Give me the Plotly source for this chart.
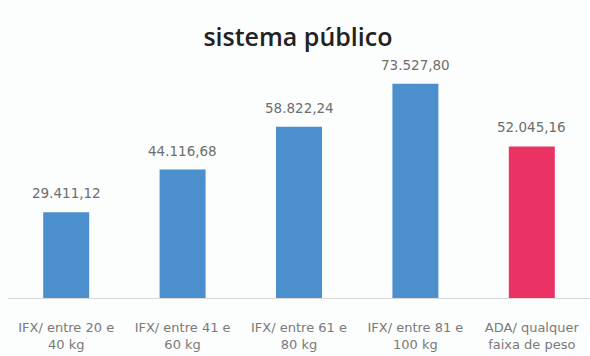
import plotly.graph_objects as go

categories = ["IFX/ entre 20 e<br>40 kg", "IFX/ entre 41 e<br>60 kg", "IFX/ entre 61 e<br>80 kg",
              "IFX/ entre 81 e<br>100 kg", "ADA/ qualquer<br>faixa de peso"]
values = [29411.12, 44116.68, 58822.24, 73527.80, 52045.16]
labels = ["29.411,12", "44.116,68", "58.822,24", "73.527,80", "52.045,16"]
colors = ["#4b8fcc", "#4b8fcc", "#4b8fcc", "#4b8fcc", "#ea3265"]

fig = go.Figure(go.Bar(
    x=categories, y=values,
    marker=dict(color=colors, line=dict(width=0)),
    width=0.395,
))
for c, v, t in zip(categories, values, labels):
    fig.add_annotation(x=c, y=v, text=t, showarrow=False, yanchor="bottom", yshift=9,
                       font=dict(family="DejaVu Sans", size=13.5, color="#6e6e6e"))
fig.update_layout(
    width=590, height=356,
    margin=dict(l=8, r=0, t=65, b=58),
    paper_bgcolor="#fcfdfd", plot_bgcolor="#fcfdfd",
    title=dict(text="sistema público", x=0.505, xanchor="center", y=0.895, yanchor="middle",
               font=dict(family="Open Sans", size=25, weight=600, color="#222222")),
    showlegend=False,
    xaxis=dict(showline=True, linecolor="#d9d9d9", linewidth=1, ticks="", ticklabelstandoff=17,
               tickfont=dict(family="DejaVu Sans", size=13, color="#7a7a7a")),
    yaxis=dict(range=[0, 80000], visible=False, showgrid=False),
)
fig.write_html("out.html")
